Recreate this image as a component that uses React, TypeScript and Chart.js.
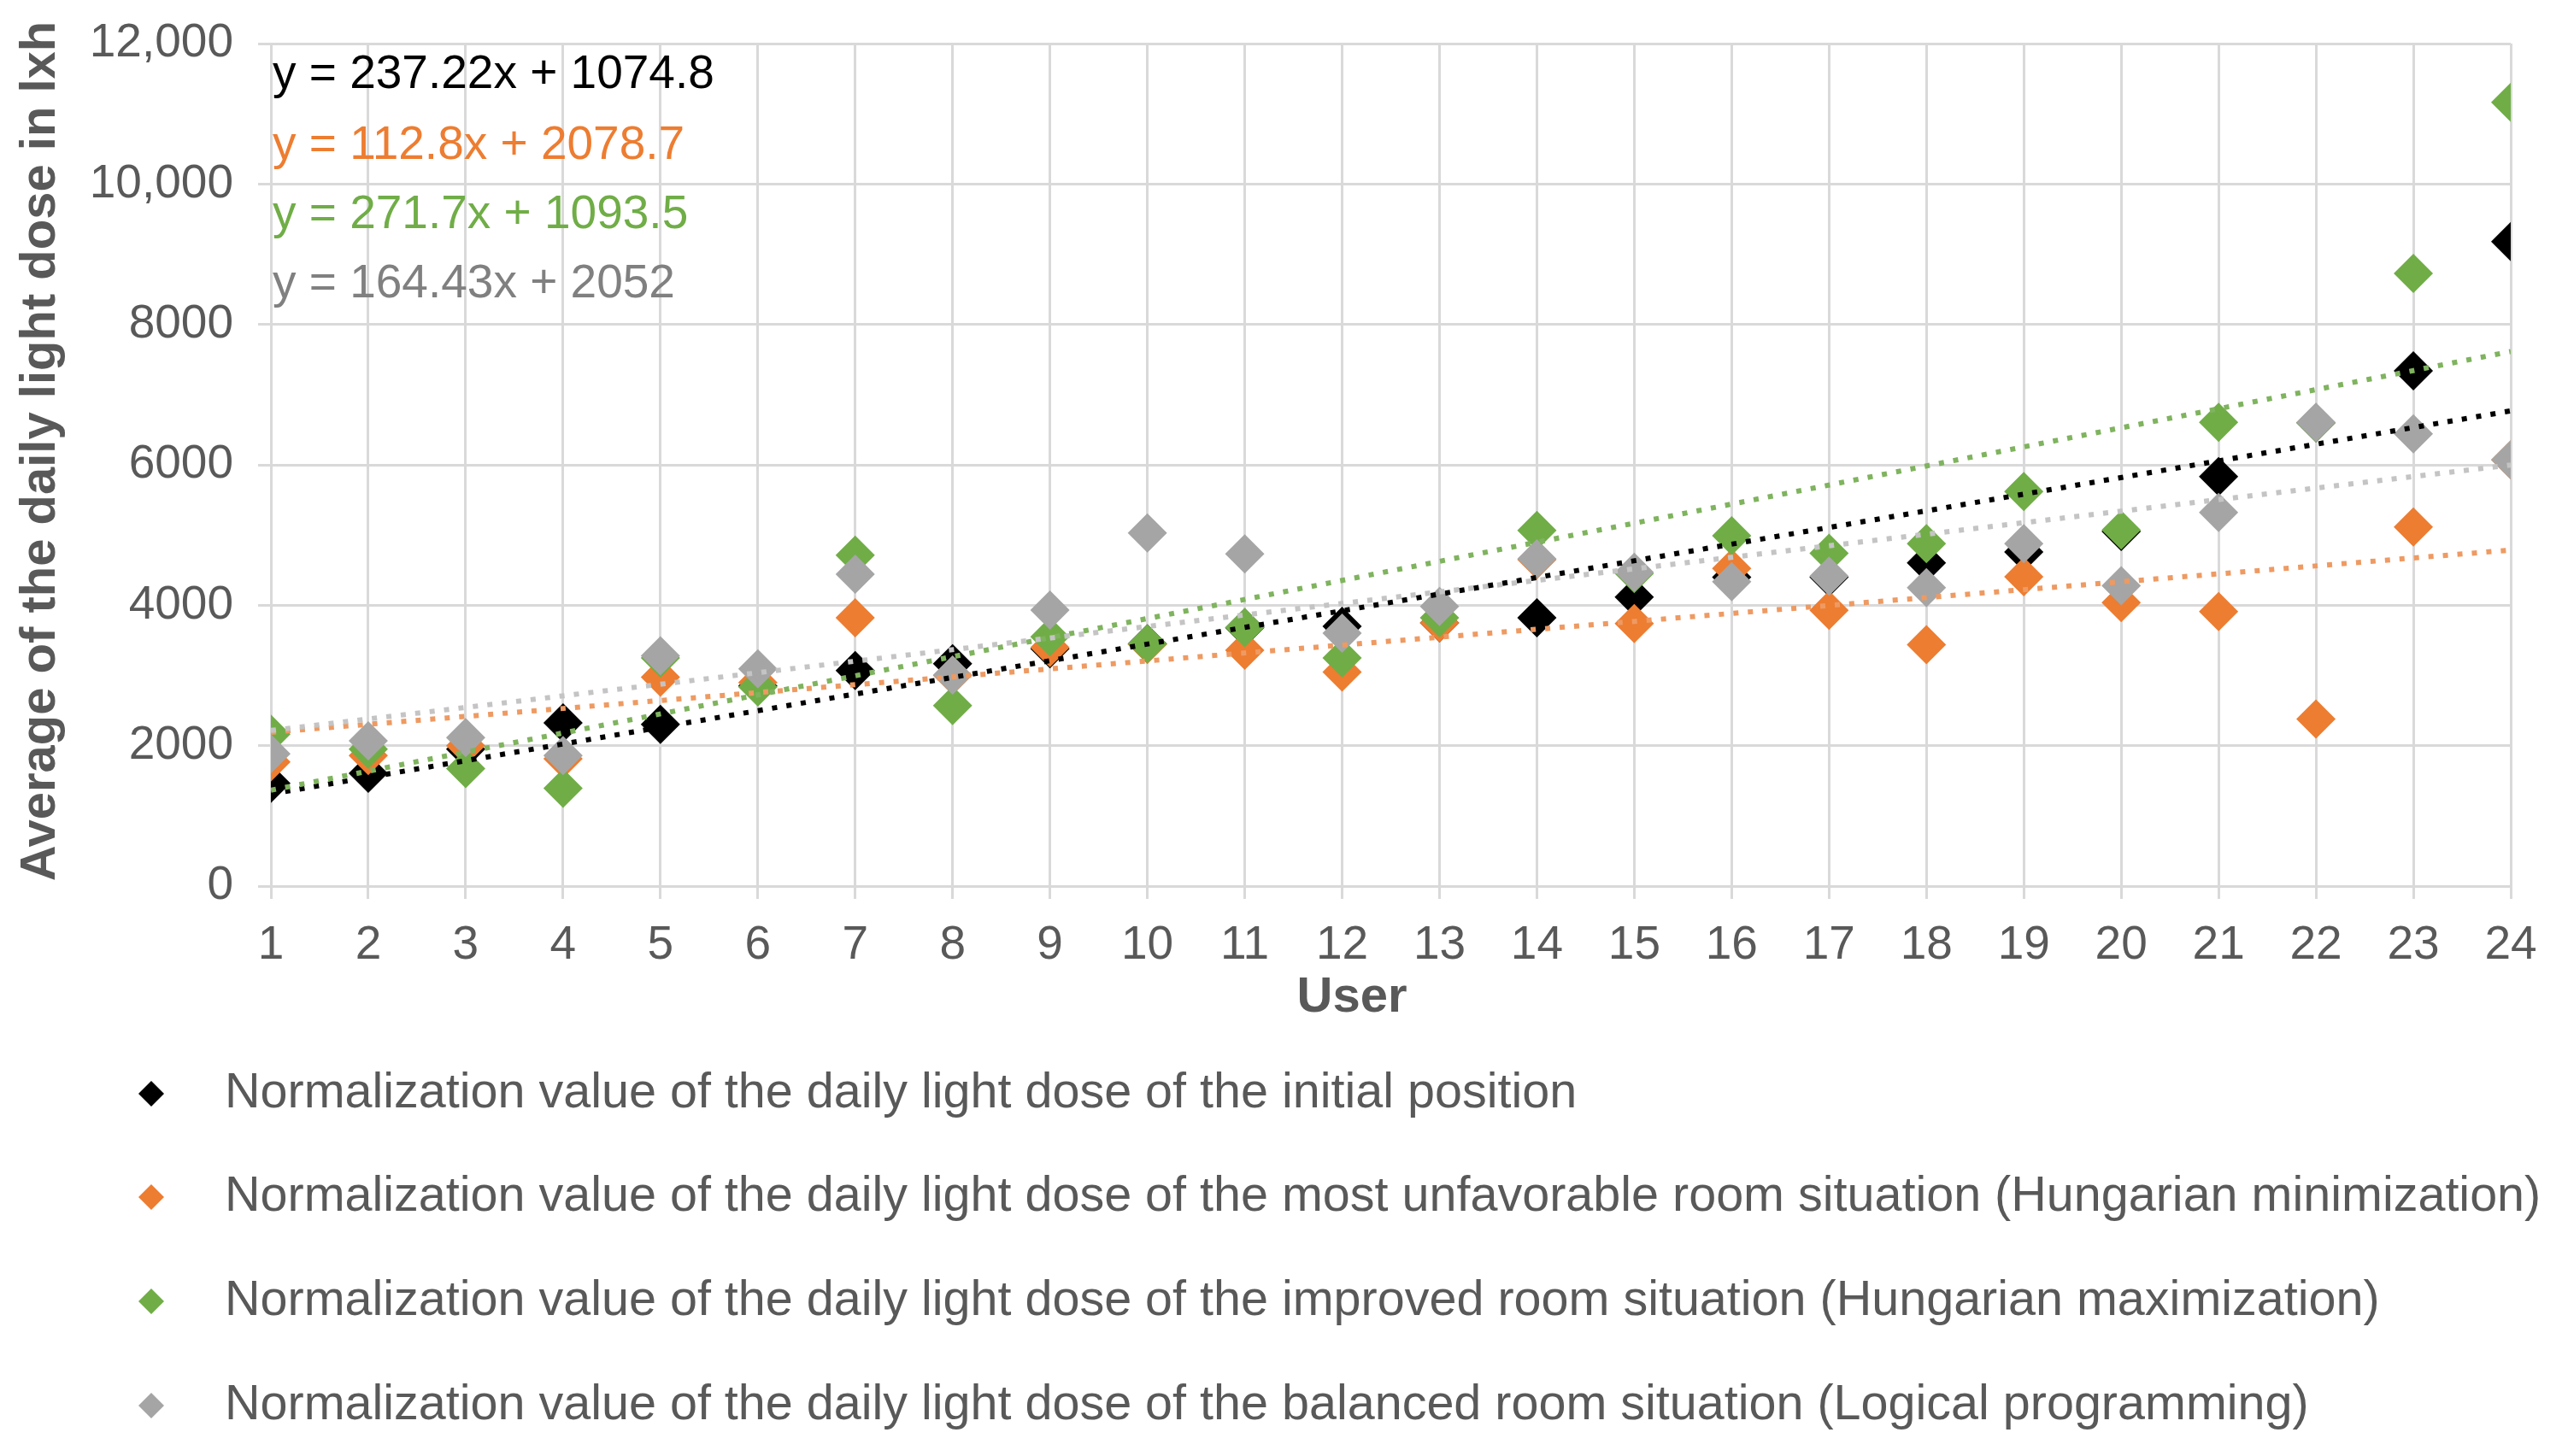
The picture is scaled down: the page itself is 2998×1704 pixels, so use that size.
import React, { useEffect, useRef } from "react";
import { Chart, registerables } from "chart.js";

Chart.register(...registerables);

// ---- data ----
const users: number[] = [1, 2, 3, 4, 5, 6, 7, 8, 9, 10, 11, 12, 13, 14, 15, 16, 17, 18, 19, 20, 21, 22, 23, 24];
const initialPosition: number[] = [1465, 1605, 1950, 2326, 2302, 2850, 3071, 3168, 3380, 3450, 3680, 3700, 3750, 3820, 4118, 4400, 4400, 4602, 4760, 5050, 5834, 6600, 7340, 9179];
const unfavorableRoom: number[] = [1767, 1860, 2000, 1814, 2977, 2900, 3820, 3000, 3400, 3440, 3359, 3049, 3750, 4650, 3738, 4525, 3928, 3439, 4405, 4038, 3909, 2378, 5115, 6070];
const improvedRoom: number[] = [2163, 1950, 1674, 1395, 3250, 2837, 4714, 2572, 3550, 3450, 3683, 3250, 3820, 5067, 4450, 4990, 4741, 4876, 5620, 5073, 6604, 6600, 8725, 11163];
const balancedRoom: number[] = [1884, 2070, 2116, 1860, 3279, 3093, 4443, 3006, 3930, 5030, 4732, 3602, 3982, 4660, 4470, 4335, 4416, 4251, 4876, 4277, 5321, 6604, 6441, 6073];

const seriesNames: string[] = [
  "Normalization value of the daily light dose of the initial position",
  "Normalization value of the daily light dose of the most unfavorable room situation (Hungarian minimization)",
  "Normalization value of the daily light dose of the improved room situation (Hungarian maximization)",
  "Normalization value of the daily light dose of the balanced room situation (Logical programming)",
];
const trendSlopes: number[] = [237.22, 112.8, 271.7, 164.43];
const trendIntercepts: number[] = [1074.8, 2078.7, 1093.5, 2052];
const equationLabels: string[] = [
  "y = 237.22x + 1074.8",
  "y = 112.8x + 2078.7",
  "y = 271.7x + 1093.5",
  "y = 164.43x + 2052",
];
const yTickValues: number[] = [0, 2000, 4000, 6000, 8000, 10000, 12000];
const xTitle = "User";
const yTitle = "Average of the daily light dose in lxh";

// ---- styles ----
const markerColors = ["#000000", "#ED7D31", "#70AD47", "#A5A5A5"];
const trendColors = ["#000000", "#EE9A62", "#7FB35E", "#C4C4C4"];
const equationColors = ["#000000", "#ED7D31", "#70AD47", "#808080"];
const FONT = "'Liberation Sans', Arial, Helvetica, sans-serif";
const TEXT = "#595959";
const GRID = "#D9D9D9";

const seriesValues = [initialPosition, unfavorableRoom, improvedRoom, balancedRoom];

const overlayPlugin = {
  id: "overlayText",
  afterDraw(chart: any) {
    const { ctx, chartArea } = chart;
    ctx.save();
    // axis titles
    ctx.fillStyle = TEXT;
    ctx.font = `bold 58px ${FONT}`;
    ctx.textAlign = "center";
    ctx.textBaseline = "middle";
    ctx.fillText(xTitle, 1582, 1168);
    ctx.save();
    ctx.translate(48, 528);
    ctx.rotate(-Math.PI / 2);
    ctx.fillText(yTitle, 0, 0);
    ctx.restore();
    // trendline equations
    ctx.font = `55px ${FONT}`;
    ctx.textBaseline = "middle";
    ctx.textAlign = "left";
    const eqOffsets = [37, 120, 201, 282];
    equationLabels.forEach((t, i) => {
      ctx.fillStyle = equationColors[i];
      ctx.fillText(t, chartArea.left + 2, chartArea.top + eqOffsets[i]);
    });
    // legend
    const rowY = [1280, 1401, 1523, 1645];
    seriesNames.forEach((name, i) => {
      const cx = 177;
      const cy = rowY[i];
      const r = 15;
      ctx.fillStyle = markerColors[i];
      ctx.beginPath();
      ctx.moveTo(cx, cy - r);
      ctx.lineTo(cx + r, cy);
      ctx.lineTo(cx, cy + r);
      ctx.lineTo(cx - r, cy);
      ctx.closePath();
      ctx.fill();
      ctx.fillStyle = TEXT;
      ctx.font = `57.5px ${FONT}`;
      ctx.fillText(name, 263, cy);
    });
    ctx.restore();
  },
};

export default function App() {
  const canvasRef = useRef<HTMLCanvasElement | null>(null);

  useEffect(() => {
    if (!canvasRef.current) return;
    const order = [4, 3, 2, 1];
    const scatterSets = seriesValues.map((vals, i) => ({
      type: "scatter" as const,
      label: seriesNames[i],
      data: users.map((u, k) => ({ x: u, y: vals[k] })),
      backgroundColor: markerColors[i],
      borderColor: markerColors[i],
      borderWidth: 0,
      pointStyle: "rectRot",
      pointRadius: 23,
      pointHoverRadius: 23,
      order: order[i],
    }));
    const x0 = users[0];
    const x1 = users[users.length - 1];
    const trendSets = trendSlopes.map((m, i) => ({
      type: "line" as const,
      label: "trend " + (i + 1),
      data: [
        { x: x0, y: m * x0 + trendIntercepts[i] },
        { x: x1, y: m * x1 + trendIntercepts[i] },
      ],
      borderColor: trendColors[i],
      borderWidth: 6,
      borderDash: [6, 11],
      borderCapStyle: "butt",
      pointRadius: 0,
      fill: false,
      order: -1 - i,
    }));

    const chart = new Chart(canvasRef.current, {
      type: "scatter",
      data: { datasets: [...scatterSets, ...trendSets] as any },
      plugins: [overlayPlugin],
      options: {
        animation: false,
        responsive: true,
        maintainAspectRatio: false,
        devicePixelRatio: 1,
        layout: { padding: { left: 0, right: 60, top: 51, bottom: 494 } },
        plugins: {
          legend: { display: false },
          tooltip: { enabled: false },
          title: { display: false },
        },
        scales: {
          x: {
            type: "linear",
            min: 1,
            max: 24,
            afterFit: (s: any) => {
              s.height = 173;
            },
            ticks: {
              stepSize: 1,
              color: TEXT,
              font: { family: FONT, size: 55 },
              padding: 22,
            },
            grid: { color: GRID, lineWidth: 3, tickLength: 15, drawTicks: true },
            border: { color: GRID, width: 3 },
            title: { display: false, text: xTitle },
          },
          y: {
            type: "linear",
            min: 0,
            max: 12000,
            afterFit: (s: any) => {
              s.width = 317;
            },
            afterBuildTicks: (s: any) => {
              s.ticks = yTickValues.map((v) => ({ value: v }));
            },
            ticks: {
              color: TEXT,
              font: { family: FONT, size: 55, lineHeight: 0.5 },
              padding: 29,
              callback: (v: any) => (Number(v) >= 10000 ? Number(v).toLocaleString("en-US") : String(v)),
            },
            grid: { color: GRID, lineWidth: 3, tickLength: 15 },
            border: { color: GRID, width: 3 },
            title: { display: false, text: yTitle },
          },
        },
      } as any,
    });
    return () => chart.destroy();
  }, []);

  return (
    <div style={{ position: "fixed", left: 0, top: 0, width: 2998, height: 1704, background: "#fff" }}>
      <canvas ref={canvasRef} />
    </div>
  );
}
